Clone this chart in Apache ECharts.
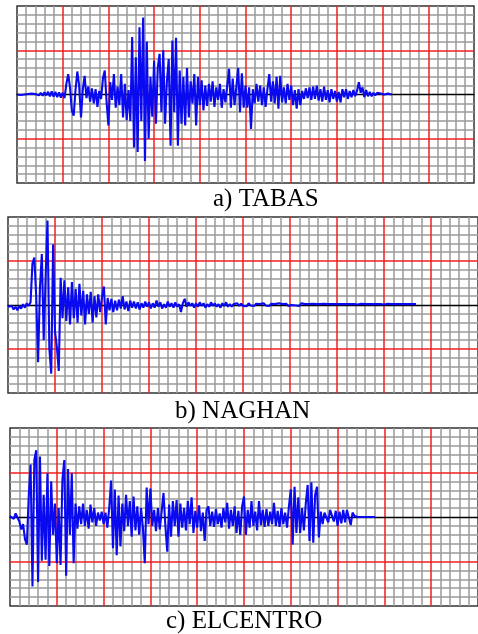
<!DOCTYPE html>
<html>
<head>
<meta charset="utf-8">
<title>records</title>
<script src="https://cdn.jsdelivr.net/npm/echarts@6/dist/echarts.min.js"></script>
<style>
html, body { margin: 0; padding: 0; background: #fff; }
#main { width: 478px; height: 634px; }
</style>
</head>
<body>
<div id="main"></div>
<script>
// samples every 0.2 of a small grid cell, amplitude in small cells (red lines at +-5)
var xStep = 0.2;

var tabas = [
    0, 0.05, -0.05, 0.05, 0, -0.05, 0.05, 0, 0.1, -0.05, 0.05,
    0.1, -0.1, 0.2, -0.15, 0.25, -0.1, 0.3, -0.2, 0.35, -0.25, 0.3, -0.3, 0.25, -0.35, 0.2,
    -0.4, 1.2, 2.3, 0.8, -1.8, -2.4, 0.5, 2.6, 1.0, -2.6,
    0.6, 2.1, -0.4, 0.9, -0.8, 0.7, -1.0, 0.6, -1.4, 0.4,
    -0.5, 1.8, 2.7, -0.8, -3.5, 1.4, -0.6, 2.3, -1.5, 0.9,
    -1.2, 2.3, -2.6, 1.2, -2.9, 0.5, -3.0, 6.5, -6.0, 4.2,
    -6.5, 7.6, -3.0, 8.7, -7.5, 6.0, -5.0, 2.0, -2.5, 3.8,
    -3.3, 3.0, 4.6, -2.0, 5.0, -3.3, 1.5, 4.0, -5.8, 6.1,
    -2.0, 6.4, -5.8, 2.7, -3.3, 2.0, -3.5, 3.0, -2.6, 1.5,
    -1.0, 2.3, -3.5, 2.0, -1.2, 1.6, -1.8, 1.0, -1.3, 1.2,
    -0.8, 1.5, -1.4, 0.8, -0.6, 1.2, -1.5, 0.6, -0.9, 1.0,
    2.9, -1.5, 1.8, -1.2, 0.9, 3.0, -2.0, 2.4, -1.5, 1.0,
    -1.5, 0.8, -3.9, 0.6, -1.0, 1.2, -0.8, 1.0, -1.2, 0.8,
    -1.4, 0.6, 2.3, -0.8, 1.5, -1.0, 2.0, -1.6, 2.1, -0.9,
    0.8, -1.0, 1.2, -0.6, 1.0, -1.2, 0.5, -1.6, 0.6, -1.2,
    0.4, -0.5, 0.7, -0.4, 0.8, -0.6, 0.9, -0.5, 1.0, -0.7,
    0.6, -0.8, 0.9, -0.6, 0.5, -0.9, 0.6, -0.5, 0.4, -0.8,
    0.3, -0.9, 0.6, -0.3, 0.6, -0.5, 0.4, -0.3, 0.5, -0.2,
    0.4, 1.4, 0.2, 0.8, -0.3, 0.5, -0.2, 0.3, -0.2, 0.2,
    -0.1, 0.2, 0, 0.1, 0, 0, 0, 0.1, 0, 0
];

var naghan = [
    -0.2, -0.4, -0.1, -0.5, -0.2, -0.6, -0.1, -0.4, 0.1, -0.3, 0.2, -0.1, 0.3,
    4.7, 5.4, 1.0, -6.5, 2.0, 5.8, -4.0, 3.1, 9.6, -5.0, -7.8, 6.9, -3.0, -4.8, -7.5, 3.1, -1.5,
    2.8, -1.8, 2.0, -2.2, 2.6, -1.5, 1.8, -2.0, 2.4, -1.2,
    1.6, -2.2, 1.2, -1.0, 1.5, -2.0, 1.0, -1.4, 1.2, -0.8,
    0.9, 2.1, -2.2, 0.8, -0.6, 0.7, -0.8, 0.5, -0.6, 0.6,
    -0.4, 1.0, -0.5, 0.4, -0.7, 0.5, -0.3, 0.4, -0.4, 0.3,
    -0.5, 0.2, -0.3, 0.4, -0.2, 0.3, -0.4, 0.2, -0.3, 0.5,
    -0.2, 0.3, -0.4, 0.1, -0.3, 0.4, -0.2, 0.2, -0.3, 0.3,
    -0.2, 0.1, -0.8, 0.2, 0.7, -0.2, 0.3, -0.1, 0.2, -0.3,
    0.2, -0.2, 0.3, -0.1, 0.2, -0.3, 0.1, -0.2, 0.3, -0.1,
    0.2, -0.2, 0.1, -0.3, 0.2, -0.1, 0.3, -0.2, 0.1, -0.2,
    0.1, -0.1, 0.2, -0.1, 0.15, -0.1, 0.1, -0.15, 0.2, -0.05,
    0.1, -0.1, 0.15, 0, 0.1, -0.1, 0.2, -0.05, 0.1, -0.1,
    0.15, -0.05, 0.1, -0.1, 0.2, 0, 0.1, -0.05, 0.15, -0.1,
    0.1, 0, 0.15, -0.05, 0.1, -0.1, 0.2, 0, 0.1, -0.05,
    0.1, -0.1, 0.15, 0, 0.1, -0.05, 0.1, 0, 0.15, -0.05,
    0.1, 0.15, 0.1, 0.05, 0.1, 0.2, 0.1, 0.05, 0.1, 0.15,
    0.1, 0.05, 0.1, 0.2, 0.1, 0.1, 0.05, 0.1, 0.15, 0.1,
    0.1, 0.05, 0.1, 0.15, 0.1, 0.05, 0.1, 0.2, 0.1, 0.1,
    0.05, 0.1, 0.15, 0.1, 0.1, 0.1, 0.1, 0.1, 0.1, 0.1,
    0.1, 0.1, 0.1, 0.1, 0.1, 0.1, 0.1, 0.1
];

var elcentro = [
    0.1, 0.3, -0.2, 0.4, 0.6, -0.5, -1.4, -0.8, -2.5, -3.1,
    2.3, 5.9, -7.8, 6.4, 7.5, -7.3, 6.8, -4.9, 2.5, -4.8,
    4.9, -5.5, 4.0, -2.0, 1.5, -5.2, 1.0, -5.4, 4.2, 6.4,
    -6.6, 5.4, -2.0, 4.9, -5.2, 1.5, -1.3, 1.2, -0.8, 1.5,
    -1.0, 0.8, -1.3, 1.4, -0.6, 1.0, -1.0, 0.5, -0.4, 0.6,
    -0.8, 0.5, -1.2, 1.0, 4.1, -3.5, 3.1, -4.3, 2.4, -3.3,
    1.5, -1.6, 2.5, -1.0, 1.8, -2.2, 2.3, -1.5, 1.2, -2.0,
    1.0, -1.2, -5.2, 3.3, -0.8, 3.2, -1.0, 0.8, -1.6, 1.0,
    -1.4, 0.6, 2.7, -1.0, -3.9, 1.4, -2.2, 1.8, -1.0, 1.9,
    -2.2, 1.5, -1.2, 1.0, -1.5, 1.8, -0.8, 2.2, -1.8, 0.7,
    -1.2, 1.3, -1.6, 0.5, -2.7, 0.8, 1.2, -1.0, 0.6, -1.1,
    0.9, -0.8, 0.4, -1.2, 1.0, -0.6, 1.6, -1.3, 0.8, -1.0,
    1.2, -1.8, 0.7, -2.0, 1.2, 2.3, -2.0, 0.8, -1.2, 1.8,
    -1.0, 0.6, -1.5, 1.8, -0.9, 0.8, -1.1, 0.9, -1.0, 0.6,
    -0.8, 1.6, -1.0, 0.7, -1.1, 1.0, -0.8, 0.5, -1.2, 1.2,
    3.1, -3.1, 3.4, -1.8, 2.2, -1.8, 1.0, -1.5, 1.5, 3.6,
    -2.7, 3.9, -2.9, 2.5, 3.4, -2.3, 0.6, -0.8, 0.5, 0.4,
    -0.6, 0.8, 1.0, -0.5, 0.7, -1.0, 0.6, -0.7, 0.8, -0.6,
    0.8, 0.9, -0.9, 0.5, 0.1, 0,
    0, 0, 0, 0, 0, 0, 0, 0, 0, 0
];

var titles = ['a) TABAS', 'b) NAGHAN', 'c) ELCENTRO'];

var myChart = echarts.init(document.getElementById('main'));

function toXY(arr) {
    return arr.map(function (v, i) { return [+(i * xStep).toFixed(2), v]; });
}

var grids = [
    { left: 17, top: 6, width: 457, height: 177 },
    { left: 8, top: 217, width: 476, height: 176 },
    { left: 10, top: 428, width: 474, height: 178 }
];

var xAxes = [], yAxes = [], series = [];
var traces = [tabas, naghan, elcentro];
var noLabel = { show: false };
var grey = '#9a9a9a', red = '#f02020';

for (var k = 0; k < 3; k++) {
    grids[k].show = true;
    grids[k].borderColor = '#333';
    grids[k].borderWidth = 1.5;
    grids[k].backgroundColor = '#ffffff';
    // grey small cells (underneath)
    xAxes.push({
        gridIndex: k, type: 'value', min: 0, max: 50, interval: 5, z: 0,
        axisLabel: noLabel, axisTick: noLabel, axisLine: noLabel,
        minorTick: { show: false, splitNumber: 5 },
        splitLine: { show: false },
        minorSplitLine: { show: true, lineStyle: { color: grey, width: 1.5 } }
    });
    yAxes.push({
        gridIndex: k, type: 'value', min: -10, max: 10, interval: 5, z: 0,
        axisLabel: noLabel, axisTick: noLabel, axisLine: noLabel,
        minorTick: { show: false, splitNumber: 5 },
        splitLine: { show: false },
        minorSplitLine: { show: true, lineStyle: { color: grey, width: 1.5 } }
    });
    // red big cells every 5 small cells + black zero line (on top)
    xAxes.push({
        gridIndex: k, type: 'value', min: 0, max: 50, interval: 50, z: 2,
        axisLabel: noLabel, axisTick: noLabel,
        axisLine: { show: true, onZero: true, onZeroAxisIndex: 2 * k + 1, lineStyle: { color: '#000', width: 1.4 } },
        minorTick: { show: false, splitNumber: 10 },
        splitLine: { show: false },
        minorSplitLine: { show: true, lineStyle: { color: red, width: 1.5 } }
    });
    yAxes.push({
        gridIndex: k, type: 'value', min: -10, max: 10, interval: 10, z: 1,
        axisLabel: noLabel, axisTick: noLabel, axisLine: noLabel,
        minorTick: { show: false, splitNumber: 2 },
        splitLine: { show: false },
        minorSplitLine: { show: true, lineStyle: { color: red, width: 1.5 } }
    });
    series.push({
        type: 'line', xAxisIndex: 2 * k + 1, yAxisIndex: 2 * k + 1,
        data: toXY(traces[k]),
        showSymbol: false, symbol: 'none',
        lineStyle: { color: '#0a0af0', width: 2.1 },
        z: 5
    });
}

var option = {
    animation: false,
    backgroundColor: '#ffffff',
    grid: grids,
    xAxis: xAxes,
    yAxis: yAxes,
    series: series,
    graphic: [
        { type: 'text', left: 213, top: 187, style: { text: titles[0], font: '25px "Liberation Serif"', fill: '#000' } },
        { type: 'text', left: 175, top: 399, style: { text: titles[1], font: '25px "Liberation Serif"', fill: '#000' } },
        { type: 'text', left: 166, top: 609, style: { text: titles[2], font: '25px "Liberation Serif"', fill: '#000' } }
    ]
};

myChart.setOption(option);
</script>
</body>
</html>
